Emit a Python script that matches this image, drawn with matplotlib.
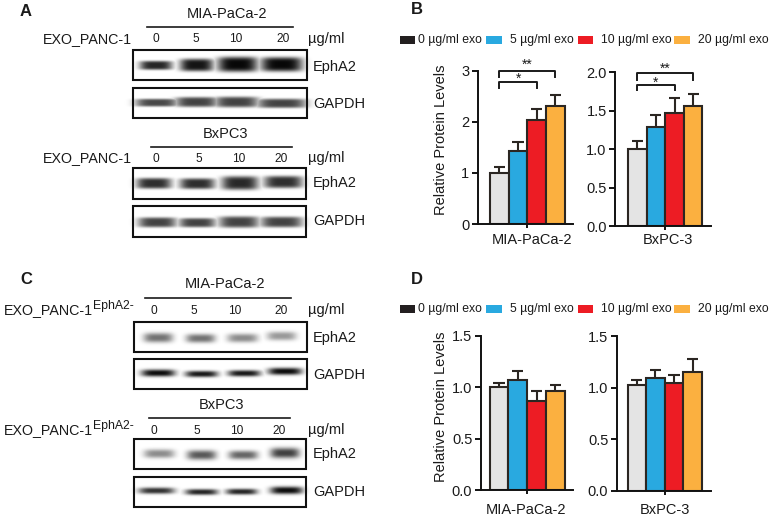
import numpy as np
import matplotlib
matplotlib.use('Agg')
from matplotlib import pyplot as plt
from matplotlib.patches import Rectangle

plt.rcParams['font.family'] = ['Liberation Sans', 'DejaVu Sans']

W, H = 772, 520

legend_labels = ['0 µg/ml exo', '5 µg/ml exo', '10 µg/ml exo', '20 µg/ml exo']
lanes = ['0', '5', '10', '20']

mia_b = [1.0, 1.43, 2.04, 2.30]
mia_b_top = [1.12, 1.60, 2.25, 2.52]
bx_b = [1.0, 1.29, 1.47, 1.56]
bx_b_top = [1.11, 1.44, 1.67, 1.72]
mia_d = [1.0, 1.07, 0.87, 0.96]
mia_d_top = [1.04, 1.16, 0.96, 1.02]
bx_d = [1.03, 1.10, 1.05, 1.15]
bx_d_top = [1.08, 1.17, 1.12, 1.28]

colors = ['#e4e4e4', '#29a9e0', '#ed1c24', '#fbb040']
legend_colors = ['#231f20', '#29a9e0', '#ed1c24', '#fbb040']
edge = '#2b2622'

# western blot bands: x centre, width, y centre, height, darkness (3x zoom coords)
bands_solid = [
    (468, 98, 196, 25, .85), (590, 100, 195, 35, .92), (713, 120, 193, 42, .97), (845, 125, 193, 40, .97),
    (470, 128, 308, 22, .72), (590, 128, 306, 28, .74), (710, 132, 306, 30, .74), (845, 148, 310, 26, .74),
    (462, 105, 550, 30, .82), (592, 105, 551, 30, .82), (720, 110, 549, 38, .84), (850, 115, 546, 34, .82),
    (472, 115, 667, 28, .74), (592, 110, 668, 26, .74), (717, 120, 666, 32, .74), (845, 125, 666, 30, .74),
]
bands_soft = [
    (475, 88, 1013, 24, .55), (602, 88, 1015, 22, .55), (728, 92, 1014, 22, .45), (845, 88, 1008, 22, .4),
    (475, 102, 1119, 18, .95), (605, 98, 1122, 16, .9), (733, 98, 1120, 16, .9), (855, 102, 1114, 18, .95),
    (478, 92, 1361, 22, .45), (605, 88, 1365, 24, .65), (730, 88, 1365, 22, .6), (855, 88, 1359, 26, .75),
    (470, 108, 1472, 16, .8), (605, 98, 1476, 15, .85), (725, 94, 1475, 15, .85), (860, 98, 1471, 19, .95),
]

fig = plt.figure(figsize=(W / 100, H / 100), dpi=100)
bg = fig.add_axes([0, 0, 1, 1])
bg.axis('off')

yy, xx = np.mgrid[0:H, 0:W]
img = np.zeros((H, W))
for group, scale, power in [(bands_solid, 5.6, 4), (bands_soft, 5, 2.5)]:
    for cx, bw, cy, bh, dark in group:
        d = dark * np.exp(-(np.abs(xx + .5 - cx / 3) / (bw / 6)) ** 4) * np.exp(-(np.abs(yy + .5 - cy / 3) / (bh / scale)) ** power)
        img = np.maximum(img, d)
bg.imshow(1 - img, cmap='gray', vmin=0, vmax=1, extent=(0, W, H, 0), aspect='auto', interpolation='bilinear')
bg.set_xlim(0, W)
bg.set_ylim(H, 0)

# blot frames
for x0, x1, y0, y1 in [(133, 307, 50, 80), (133, 307, 88, 118), (133, 306, 168, 199), (133, 306, 206, 237),
                       (134, 307, 322, 352), (134, 307, 359, 389), (134, 306, 439, 469), (134, 306, 477, 507)]:
    bg.add_patch(Rectangle((x0, y0), x1 - x0, y1 - y0, fill=False, ec='#111111', lw=1.5))


def txt(x, y, s, size=10.5, ha='left', **kw):
    bg.text(x, y, s, fontsize=size, ha=ha, va='center', color='#1a1a1a', **kw)


for x, y, s in [(26, 11, 'A'), (417, 10, 'B'), (26, 279, 'C'), (417, 279, 'D')]:
    txt(x, y, s, size=12, ha='center', fontweight='bold')

# blot headers: title, title x/y, line x0/x1/y, row y, lane x
headers = [
    ('MIA-PaCa-2', 227, 13.5, 147, 293, 27, 39, [156, 196, 236, 283]),
    ('BxPC3', 226, 134, 151, 292, 147, 158, [156, 199, 239, 281]),
    ('MIA-PaCa-2', 225, 284, 145, 291, 298, 310, [154, 194, 235, 281]),
    ('BxPC3', 222, 405, 149, 290, 418, 430, [154, 197, 237, 279]),
]
for i, (title, tx, ty, lx0, lx1, ly, ry, lx) in enumerate(headers):
    txt(tx, ty, title, ha='center')
    bg.plot([lx0, lx1], [ly, ly], color='#1a1a1a', lw=1.2)
    for x, s in zip(lx, lanes):
        txt(x, ry + .5, s, size=8.6, ha='center')
    txt(308, ry, 'µg/ml')
    if i < 2:
        txt(132, ry, 'EXO_PANC-1', size=10.3, ha='right')
    else:
        txt(4, ry, 'EXO_PANC-1', size=10.3)
        txt(92.5, ry - 3.5, 'EphA2-', size=8.8)

for y in [67, 183, 338, 454]:
    txt(313, y, 'EphA2')
for y in [104, 221, 375, 492]:
    txt(313, y, 'GAPDH')

# legends
for y in [40, 309]:
    for x, c, tx, s in zip([399.5, 486, 577.5, 674], legend_colors, [418.5, 509.5, 601, 697.5], legend_labels):
        bg.add_patch(Rectangle((x, y - 4), 15.5, 8, fc=c, ec='none'))
        txt(tx, y, s, size=8.8)

for y in [140, 407]:
    txt(441, y, 'Relative Protein Levels', ha='center', rotation=90)


def bars(spine_x, x_end, y_top, y_zero, bar_left, bar_w, ymax, ticks, vals, tops, cols, label, lab_x, lab_y, fmt):
    ax = fig.add_axes([spine_x / W, 1 - y_zero / H, (x_end - spine_x) / W, (y_zero - y_top) / H])
    ax.patch.set_alpha(0)
    ax.set_xlim((spine_x - bar_left) / bar_w - .5, (x_end - bar_left) / bar_w - .5)
    ax.set_ylim(0, ymax)
    pos = np.arange(len(vals))
    for p, v, t, c in zip(pos, vals, tops, cols):
        ax.plot([p, p], [v, t], color=edge, lw=1.5, solid_capstyle='butt', zorder=1)
        ax.plot([p - .3, p + .3], [t, t], color=edge, lw=1.5, solid_capstyle='butt', zorder=1)
    ax.bar(pos, vals, width=1, color=cols, edgecolor=edge, linewidth=1.5, zorder=2)
    for s in ['top', 'right']:
        ax.spines[s].set_visible(False)
    for s in ['left', 'bottom']:
        ax.spines[s].set_linewidth(1.4)
        ax.spines[s].set_color('#111111')
    ax.set_yticks(ticks)
    ax.set_yticklabels([fmt % t for t in ticks], fontsize=10.5, color='#1a1a1a')
    ax.set_xticks([1.5])
    ax.set_xticklabels([''])
    ax.tick_params(axis='y', length=4.5, width=1.3, pad=1.5)
    ax.tick_params(axis='x', length=3, width=1.3)
    txt(lab_x, lab_y, label, ha='center')
    return ax


def bracket(ax, a, b, y_hi, y_lo, stars, star_y):
    ax.plot([a, a, b, b], [y_lo, y_hi, y_hi, y_lo], color='#1a1a1a', lw=1.4, clip_on=False, zorder=3)
    ax.text((a + b) / 2, star_y, stars, fontsize=10, ha='center', va='center', color='#1a1a1a', clip_on=False)


a1 = bars(477.5, 573, 70.7, 224, 490, 18.7, 3, [0, 1, 2, 3], mia_b, mia_b_top, colors, 'MIA-PaCa-2', 532, 240, '%d')
a2 = bars(615, 711, 72.3, 226, 628, 18.6, 2, [0, .5, 1, 1.5, 2], bx_b, bx_b_top, colors, 'BxPC-3', 668, 240, '%.1f')
d1 = bars(480.7, 573, 335.7, 490.3, 489.5, 18.8, 1.5, [0, .5, 1, 1.5], mia_d, mia_d_top, colors, 'MIA-PaCa-2', 526, 510.5, '%.1f')
d2 = bars(616.7, 711, 336.3, 491, 627.5, 18.6, 1.5, [0, .5, 1, 1.5], bx_d, bx_d_top, colors, 'BxPC-3', 665, 510.5, '%.1f')

bracket(a1, 0, 3, 3.0, 2.88, '**', 3.12)
bracket(a1, 0, 2, 2.78, 2.67, '*', 2.84)
bracket(a2, 0, 3, 1.987, 1.9, '**', 2.04)
bracket(a2, 0, 2, 1.835, 1.77, '*', 1.87)

fig.savefig('out.png', dpi=100)
